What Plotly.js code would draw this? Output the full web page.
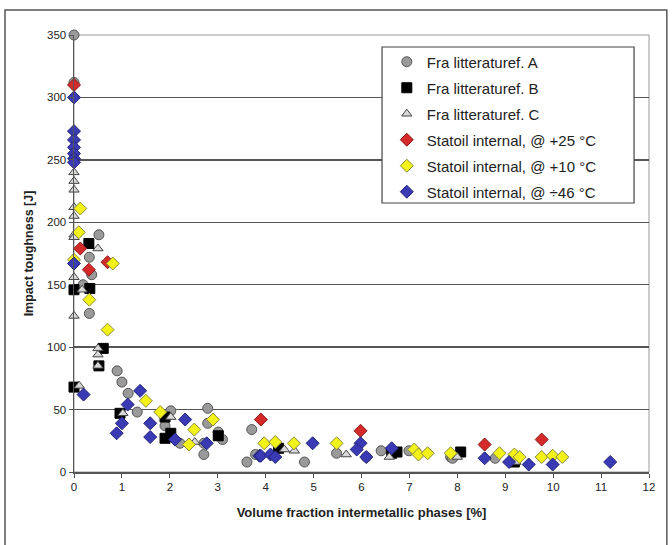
<!DOCTYPE html>
<html>
<head>
<meta charset="utf-8">
<script src="https://cdn.plot.ly/plotly-3.0.1.min.js"></script>
<style>html,body{margin:0;padding:0;background:#fff;}#chart{width:672px;height:545px;}</style>
</head>
<body>
<div id="chart"></div>
<script>
// Series A: Fra litteraturef. A (gray circles)
const aX = [0, 0, 0.52, 0.32, 0.37, 0.32, 0.19, 0.9, 1.0, 1.13, 1.32, 2.02, 1.9, 2.21, 2.79, 2.79, 2.71, 2.71, 3.01, 3.1, 3.61, 3.71, 3.79, 4.81, 5.48, 6.41, 6.99, 6.1, 7.86, 7.9, 8.79];
const aY = [350, 312, 190, 172, 158, 127, 150, 81, 72, 63, 48, 49, 37, 23, 51, 39, 23, 14, 32, 26, 8, 34, 14, 8, 15, 17, 17, 12, 12, 11, 11];
// Series B: Fra litteraturef. B (black squares)
const bX = [0.31, 0, 0.33, 0.61, 0.52, 0, 0.96, 1.9, 2.02, 1.9, 3.01, 4.27, 6.63, 6.74, 8.07, 9.19];
const bY = [183, 146, 147, 99, 85, 68, 47, 44, 31, 27, 29, 19, 15, 16, 16, 8];
// Series C: Fra litteraturef. C (triangles)
const cX = [0, 0, 0, 0, 0, 0, 0, 0.5, 0, 0.17, 0, 0.5, 0.5, 0.5, 0.11, 1.02, 2.02, 2.52, 4.39, 4.6, 5.68, 6.58, 8.0, 9.22];
const cY = [240, 233, 226, 212, 205, 190, 188, 179, 156, 146, 125, 99, 94, 85, 69, 47, 44, 24, 18, 17, 14, 12, 12, 8];
// Series D: Statoil internal, @ +25 °C (red diamonds)
const dX = [0, 0.13, 0.7, 0.31, 3.9, 5.98, 8.57, 9.76];
const dY = [310, 179, 168, 162, 42, 33, 22, 26];
// Series E: Statoil internal, @ +10 °C (yellow diamonds)
const eX = [0.13, 0.1, 0.81, 0.32, 0.7, 0, 1.5, 1.8, 2.51, 2.4, 2.9, 3.97, 4.2, 4.59, 5.48, 7.1, 7.19, 7.38, 7.86, 8.88, 9.19, 9.3, 9.76, 9.99, 10.19];
const eY = [211, 192, 167, 138, 114, 170, 57, 48, 34, 22, 42, 23, 24, 23, 23, 18, 14, 15, 15, 15, 14, 12, 12, 13, 12];
// Series F: Statoil internal, @ -46 °C (blue diamonds)
const fX = [0, 0, 0, 0, 0, 0, 0, 0, 0.2, 1.38, 1.12, 1.0, 0.89, 1.59, 1.59, 2.11, 2.32, 2.77, 3.87, 3.9, 4.1, 4.2, 4.98, 5.98, 5.9, 6.1, 6.63, 8.57, 9.08, 9.49, 9.99, 11.19];
const fY = [300, 273, 266, 260, 255, 251, 248, 167, 62, 65, 54, 39, 31, 39, 28, 26, 42, 23, 13, 13, 14, 12, 23, 23, 18, 12, 19, 11, 8, 6, 6, 8];

const names = ["Fra litteraturef. A", "Fra litteraturef. B", "Fra litteraturef. C",
  "Statoil internal, @ +25 °C", "Statoil internal, @ +10 °C", "Statoil internal, @ ÷46 °C"];

function tr(x, y, name, sym, size, fill, line, g) {
  return {type: 'scatter', mode: 'markers', x: x, y: y, name: name, legendgroup: g,
    cliponaxis: false,
    marker: {symbol: sym, size: size, color: fill, line: {color: line, width: 1}}};
}
const data = [
  tr(aX, aY, names[0], 'circle', 10, '#9a9a9a', '#555555', 'a'),
  tr(bX, bY, names[1], 'square', 10, '#000000', '#000000', 'b'),
  tr(cX, cY, names[2], 'triangle-up', 9, '#d8d8d8', '#444444', 'c'),
  tr(dX, dY, names[3], 'diamond', 10, '#d42a2a', '#8a1a1a', 'd'),
  tr(eX, eY, names[4], 'diamond', 10, '#f2f21a', '#8a8a40', 'e'),
  tr(fX, fY, names[5], 'diamond', 10, '#3a3ab4', '#24247a', 'f')
];

const layout = {
  width: 672, height: 545,
  margin: {l: 74, r: 23, t: 35, b: 73},
  paper_bgcolor: '#ffffff', plot_bgcolor: '#ffffff',
  font: {family: 'Liberation Sans, Arial, sans-serif', size: 11.5, color: '#222'},
  showlegend: true,
  legend: {x: 0.544, y: 0.976, xanchor: 'left', yanchor: 'top',
    borderwidth: 0, bgcolor: 'rgba(0,0,0,0)',
    font: {size: 15, color: '#222'}, tracegroupgap: 3.5, itemwidth: 30},
  xaxis: {range: [0, 12], tickvals: [0,1,2,3,4,5,6,7,8,9,10,11,12],
    showgrid: false, zeroline: false, showline: true, linecolor: '#555', linewidth: 1.5,
    ticks: 'outside', ticklen: 4, tickcolor: '#555',
    title: {text: '<b>Volume fraction intermetallic phases [%]</b>', font: {size: 13, color: '#222'}, standoff: 15}},
  yaxis: {range: [0, 350], tickvals: [0,50,100,150,200,250,300,350],
    showgrid: true, gridcolor: '#555', gridwidth: 1.5, zeroline: false,
    showline: true, linecolor: '#555', linewidth: 1.5,
    ticks: 'outside', ticklen: 4, tickcolor: '#555',
    title: {text: '<b>Impact toughness [J]</b>', font: {size: 12.5, color: '#222'}, standoff: 10}},
  shapes: [
    {type: 'rect', xref: 'paper', yref: 'paper', x0: 0, x1: 1, y0: 0, y1: 1,
      line: {color: '#999', width: 1}, layer: 'below'},
    {type: 'rect', xref: 'paper', yref: 'paper', x0: 0.5357, x1: 0.974, y0: 0.6156, y1: 0.9725,
      line: {color: '#444', width: 1.2}, fillcolor: '#ffffff', layer: 'above'},
    {type: 'rect', xref: 'paper', yref: 'paper', x0: -0.12, x1: 1.031, y0: -0.2, y1: 1.057,
      line: {color: '#555', width: 1.5}}
  ]
};
Plotly.newPlot('chart', data, layout, {displayModeBar: false, staticPlot: true});
</script>
</body>
</html>
